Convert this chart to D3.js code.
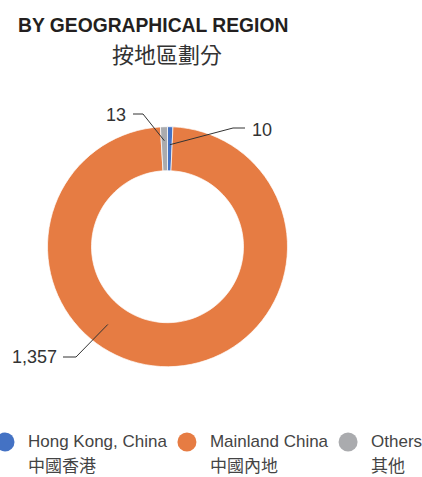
<!DOCTYPE html>
<html>
<head>
<meta charset="utf-8">
<script src="https://cdn.jsdelivr.net/npm/d3@7"></script>
<style>
  body { margin: 0; background: #fff; }
  svg { display: block; }
</style>
</head>
<body>
<div id="container"></div>
<script>
let w = 422;
let h = 477;

// data
let regionsEn = ["Hong Kong, China", "Mainland China", "Others"];
let regionsZh = ["中國香港", "中國內地", "其他"];
let regionValues = [10, 1357, 13];
let regionColors = ["#4472C4", "#E67C43", "#AAABAE"];

let titleEn = "BY GEOGRAPHICAL REGION";
let titleZh = "按地區劃分";

let cx = 167.5;
let cy = 246.7;
let outerR = 120;
let innerR = 76;

let viz = d3.select("#container").append("svg")
    .attr("width", w)
    .attr("height", h)
;

// title
viz.append("text")
    .text(titleEn)
    .attr("x", 18)
    .attr("y", 32)
    .attr("font-family", "Liberation Sans, Arial, sans-serif")
    .attr("font-weight", "bold")
    .attr("font-size", 19.3)
    .attr("fill", "#231f20")
;
viz.append("text")
    .text(titleZh)
    .attr("x", 167)
    .attr("y", 63)
    .attr("text-anchor", "middle")
    .attr("font-family", "Noto Sans CJK TC, sans-serif")
    .attr("font-size", 22)
    .attr("fill", "#333")
;

// donut
let pie = d3.pie().sort(null).value(function(d) { return d; });
let arcs = pie(regionValues);
let arcMaker = d3.arc().innerRadius(innerR).outerRadius(outerR);

let donut = viz.append("g").attr("transform", "translate(" + cx + "," + cy + ")");
donut.selectAll(".slice").data(arcs).enter()
  .append("path")
    .attr("class", "slice")
    .attr("d", arcMaker)
    .attr("fill", function(d, i) { return regionColors[i]; })
    .attr("stroke", "#fff")
    .attr("stroke-width", 0.7)
;

// labels with leader lines (layout per slice: anchor radius/angle, elbow, end)
function polar(r, a) {
  return [cx + r * Math.sin(a), cy - r * Math.cos(a)];
}
let fmt = d3.format(",");
let labelLayout = [
  { angle: null, r: 102, elbow: [233, 128], end: [245, 128], tx: 252, ty: 136, anchor: "start" },
  { angle: 217.5 * Math.PI / 180, r: 98, elbow: [76, 357], end: [63, 357], tx: 57, ty: 363, anchor: "end" },
  { angle: null, r: 106, elbow: [143, 114], end: [133, 114], tx: 126, ty: 121, anchor: "end" }
];
let labelGroup = viz.append("g");
arcs.forEach(function(d, i) {
  let L = labelLayout[i];
  let a = L.angle != null ? L.angle : (d.startAngle + d.endAngle) / 2;
  let p = polar(L.r, a);
  labelGroup.append("polyline")
      .attr("points", [p, L.elbow, L.end].map(function(q) { return q.join(","); }).join(" "))
      .attr("fill", "none")
      .attr("stroke", "#333")
      .attr("stroke-width", 1)
  ;
  labelGroup.append("text")
      .text(fmt(d.data))
      .attr("x", L.tx)
      .attr("y", L.ty)
      .attr("text-anchor", L.anchor)
      .attr("font-family", "Liberation Sans, Arial, sans-serif")
      .attr("font-size", 18)
      .attr("fill", "#333")
  ;
});

// legend
let legend = viz.append("g");
let lx = 5;
regionsEn.forEach(function(name, i) {
  legend.append("circle")
      .attr("cx", lx)
      .attr("cy", 442)
      .attr("r", 9.5)
      .attr("fill", regionColors[i])
  ;
  let t = legend.append("text")
      .text(name)
      .attr("x", lx + 23)
      .attr("y", 447)
      .attr("font-family", "Liberation Sans, Arial, sans-serif")
      .attr("font-size", 17)
      .attr("fill", "#444")
  ;
  legend.append("text")
      .text(regionsZh[i])
      .attr("x", lx + 23)
      .attr("y", 472)
      .attr("font-family", "Noto Sans CJK TC, sans-serif")
      .attr("font-size", 17)
      .attr("fill", "#444")
  ;
  lx = lx + 23 + t.node().getComputedTextLength() + 20;
});
</script>
</body>
</html>
